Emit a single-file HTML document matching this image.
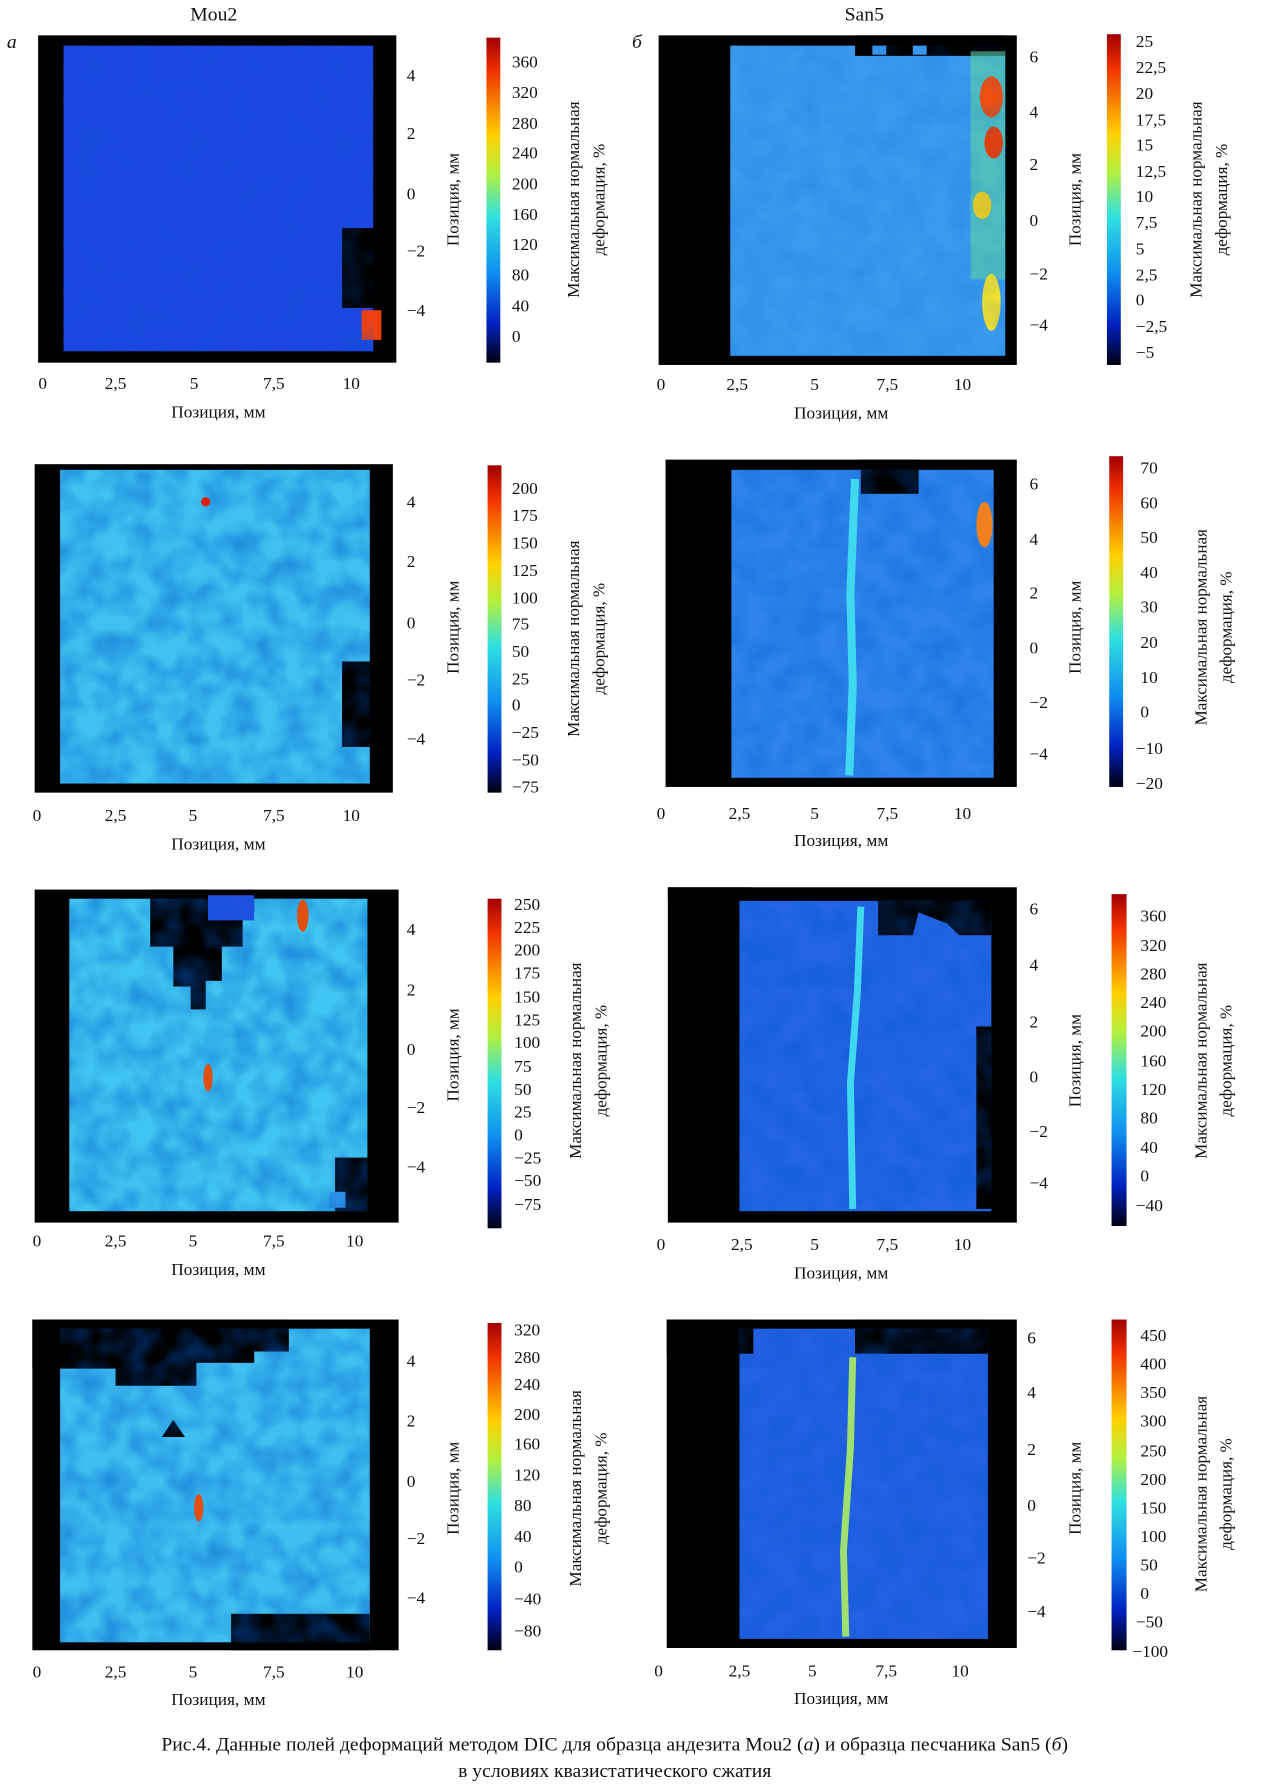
<!DOCTYPE html>
<html><head><meta charset="utf-8"><style>
html,body{margin:0;padding:0;background:#fff;}
svg{display:block}
text{font-family:"Liberation Serif",serif;fill:#111;}
</style></head><body>
<svg width="1271" height="1786" viewBox="0 0 1100 1566" preserveAspectRatio="none" xmlns="http://www.w3.org/2000/svg">
<defs>
<linearGradient id="jet" x1="0" y1="0" x2="0" y2="1">
<stop offset="0" stop-color="#a00000"/><stop offset="0.1" stop-color="#f03000"/><stop offset="0.3" stop-color="#ffd000"/><stop offset="0.42" stop-color="#b0f040"/><stop offset="0.55" stop-color="#30e0e0"/><stop offset="0.72" stop-color="#1090f0"/><stop offset="0.88" stop-color="#0020c0"/><stop offset="1" stop-color="#000010"/>
</linearGradient>
<filter id="tx" x="0" y="0" width="1" height="1"><feTurbulence type="fractalNoise" baseFrequency="0.045" numOctaves="2" seed="3"/><feColorMatrix type="matrix" values="0 0 0 0 0  0 0 0 0 0.1  0 0 0 0 0.6  0 0 0 -1.6 1.1"/></filter>
</defs>
<g font-size="15">
<!-- titles -->
<text x="185" y="18" text-anchor="middle" font-size="17">Mou2</text>
<text x="748" y="18" text-anchor="middle" font-size="17">San5</text>
<text x="6" y="42" font-style="italic" font-size="17">а</text>
<text x="547" y="42" font-style="italic" font-size="17">б</text>

<!-- ROW 1 LEFT -->
<rect x="33" y="31" width="310" height="287" fill="#000"/>
<rect x="55" y="40" width="268" height="268" fill="#1e46e2"/>
<rect x="296" y="200" width="30" height="70" fill="#000"/>
<rect x="313" y="272" width="17" height="26" fill="#f04010"/>
<rect x="55" y="40" width="268" height="268" filter="url(#tx)" opacity="0.3"/>
<g text-anchor="middle"><text x="37" y="341">0</text><text x="100" y="341">2,5</text><text x="168" y="341">5</text><text x="237" y="341">7,5</text><text x="304" y="341">10</text></g>
<text x="189" y="366" text-anchor="middle">Позиция, мм</text>
<g><text x="352" y="71">4</text><text x="352" y="122">2</text><text x="352" y="175">0</text><text x="352" y="225">−2</text><text x="352" y="277">−4</text></g>
<text transform="translate(397,175) rotate(-90)" text-anchor="middle">Позиция, мм</text>
<rect x="421" y="33" width="12" height="285" fill="url(#jet)"/>
<g><text x="443" y="59">360</text><text x="443" y="86">320</text><text x="443" y="113">280</text><text x="443" y="139">240</text><text x="443" y="166">200</text><text x="443" y="193">160</text><text x="443" y="219">120</text><text x="443" y="246">80</text><text x="443" y="273">40</text><text x="443" y="300">0</text></g>
<text transform="translate(501,175) rotate(-90)" text-anchor="middle">Максимальная нормальная</text>
<text transform="translate(523,175) rotate(-90)" text-anchor="middle">деформация, %</text>

<!-- ROW 1 RIGHT -->
<rect x="570" y="31" width="310" height="289" fill="#000"/>
<rect x="632" y="40" width="238" height="272" fill="#3a9aee"/>
<rect x="740" y="31" width="130" height="18" fill="#000"/>
<rect x="755" y="40" width="12" height="8" fill="#3a9aee"/><rect x="790" y="40" width="12" height="8" fill="#3a9aee"/>
<rect x="840" y="45" width="30" height="200" fill="#60d8a0" opacity="0.6"/>
<ellipse cx="858" cy="85" rx="10" ry="18" fill="#f05010"/><ellipse cx="860" cy="125" rx="8" ry="14" fill="#e04010"/><ellipse cx="850" cy="180" rx="8" ry="12" fill="#f0d020"/><ellipse cx="858" cy="265" rx="8" ry="25" fill="#f0e030"/>
<rect x="632" y="40" width="238" height="272" filter="url(#tx)" opacity="0.2"/>
<g text-anchor="middle"><text x="572" y="342">0</text><text x="638" y="342">2,5</text><text x="705" y="342">5</text><text x="768" y="342">7,5</text><text x="833" y="342">10</text></g>
<text x="728" y="367" text-anchor="middle">Позиция, мм</text>
<g><text x="891" y="55">6</text><text x="891" y="103">4</text><text x="891" y="149">2</text><text x="891" y="198">0</text><text x="891" y="245">−2</text><text x="891" y="290">−4</text></g>
<text transform="translate(935,175) rotate(-90)" text-anchor="middle">Позиция, мм</text>
<rect x="958" y="30" width="12" height="290" fill="url(#jet)"/>
<g><text x="983" y="41">25</text><text x="983" y="64">22,5</text><text x="983" y="87">20</text><text x="983" y="110">17,5</text><text x="983" y="132">15</text><text x="983" y="155">12,5</text><text x="983" y="177">10</text><text x="983" y="200">7,5</text><text x="983" y="223">5</text><text x="983" y="246">2,5</text><text x="983" y="268">0</text><text x="983" y="291">−2,5</text><text x="983" y="314">−5</text></g>
<text transform="translate(1040,175) rotate(-90)" text-anchor="middle">Максимальная нормальная</text>
<text transform="translate(1062,175) rotate(-90)" text-anchor="middle">деформация, %</text>

<!-- ROW 2 LEFT -->
<rect x="30" y="407" width="310" height="288" fill="#000"/>
<rect x="52" y="412" width="268" height="275" fill="#40c2f0"/>
<rect x="296" y="580" width="30" height="75" fill="#000"/>
<rect x="52" y="412" width="268" height="275" filter="url(#tx)" opacity="0.55"/>
<circle cx="178" cy="440" r="4" fill="#e02000"/>
<g text-anchor="middle"><text x="32" y="720">0</text><text x="100" y="720">2,5</text><text x="167" y="720">5</text><text x="237" y="720">7,5</text><text x="304" y="720">10</text></g>
<text x="189" y="745" text-anchor="middle">Позиция, мм</text>
<g><text x="352" y="445">4</text><text x="352" y="497">2</text><text x="352" y="551">0</text><text x="352" y="601">−2</text><text x="352" y="653">−4</text></g>
<text transform="translate(397,550) rotate(-90)" text-anchor="middle">Позиция, мм</text>
<rect x="422" y="408" width="12" height="287" fill="url(#jet)"/>
<g><text x="443" y="433">200</text><text x="443" y="457">175</text><text x="443" y="481">150</text><text x="443" y="505">125</text><text x="443" y="529">100</text><text x="443" y="552">75</text><text x="443" y="576">50</text><text x="443" y="600">25</text><text x="443" y="623">0</text><text x="443" y="647">−25</text><text x="443" y="671">−50</text><text x="443" y="695">−75</text></g>
<text transform="translate(501,560) rotate(-90)" text-anchor="middle">Максимальная нормальная</text>
<text transform="translate(523,560) rotate(-90)" text-anchor="middle">деформация, %</text>

<!-- ROW 2 RIGHT -->
<rect x="576" y="403" width="304" height="287" fill="#000"/>
<rect x="633" y="412" width="227" height="270" fill="#2e84ea"/>
<rect x="745" y="403" width="50" height="30" fill="#000"/>
<rect x="633" y="412" width="227" height="270" filter="url(#tx)" opacity="0.4"/>
<path d="M740 420 L736 520 L738 600 L735 680" stroke="#40d8f0" stroke-width="7" fill="none"/>
<ellipse cx="852" cy="460" rx="7" ry="20" fill="#f08020"/>
<g text-anchor="middle"><text x="572" y="718">0</text><text x="640" y="718">2,5</text><text x="705" y="718">5</text><text x="768" y="718">7,5</text><text x="833" y="718">10</text></g>
<text x="728" y="742" text-anchor="middle">Позиция, мм</text>
<g><text x="891" y="429">6</text><text x="891" y="478">4</text><text x="891" y="525">2</text><text x="891" y="573">0</text><text x="891" y="621">−2</text><text x="891" y="666">−4</text></g>
<text transform="translate(935,550) rotate(-90)" text-anchor="middle">Позиция, мм</text>
<rect x="960" y="400" width="12" height="290" fill="url(#jet)"/>
<g><text x="987" y="415">70</text><text x="987" y="446">60</text><text x="987" y="476">50</text><text x="987" y="507">40</text><text x="987" y="537">30</text><text x="987" y="568">20</text><text x="987" y="599">10</text><text x="987" y="629">0</text><text x="983" y="661">−10</text><text x="983" y="692">−20</text></g>
<text transform="translate(1044,550) rotate(-90)" text-anchor="middle">Максимальная нормальная</text>
<text transform="translate(1066,550) rotate(-90)" text-anchor="middle">деформация, %</text>

<!-- ROW 3 LEFT -->
<rect x="30" y="780" width="315" height="292" fill="#000"/>
<rect x="60" y="788" width="258" height="274" fill="#40c4f0"/>
<path d="M130 780 L130 830 L150 830 L150 865 L165 865 L165 885 L178 885 L178 860 L192 860 L192 830 L210 830 L210 800 L220 800 L220 780 Z" fill="#000"/>
<rect x="180" y="785" width="40" height="22" fill="#2050e0"/>
<rect x="290" y="1015" width="35" height="50" fill="#000"/>
<rect x="285" y="1045" width="14" height="14" fill="#3aa0f0"/>
<rect x="60" y="788" width="258" height="274" filter="url(#tx)" opacity="0.55"/>
<ellipse cx="180" cy="945" rx="4" ry="12" fill="#e05010"/>
<ellipse cx="262" cy="803" rx="5" ry="14" fill="#e05010"/>
<g text-anchor="middle"><text x="32" y="1093">0</text><text x="100" y="1093">2,5</text><text x="167" y="1093">5</text><text x="237" y="1093">7,5</text><text x="307" y="1093">10</text></g>
<text x="189" y="1118" text-anchor="middle">Позиция, мм</text>
<g><text x="352" y="820">4</text><text x="352" y="873">2</text><text x="352" y="925">0</text><text x="352" y="976">−2</text><text x="352" y="1028">−4</text></g>
<text transform="translate(397,925) rotate(-90)" text-anchor="middle">Позиция, мм</text>
<rect x="422" y="788" width="12" height="289" fill="url(#jet)"/>
<g><text x="445" y="798">250</text><text x="445" y="818">225</text><text x="445" y="838">200</text><text x="445" y="858">175</text><text x="445" y="879">150</text><text x="445" y="899">125</text><text x="445" y="919">100</text><text x="445" y="940">75</text><text x="445" y="960">50</text><text x="445" y="980">25</text><text x="445" y="1000">0</text><text x="445" y="1020">−25</text><text x="445" y="1040">−50</text><text x="445" y="1061">−75</text></g>
<text transform="translate(503,930) rotate(-90)" text-anchor="middle">Максимальная нормальная</text>
<text transform="translate(525,930) rotate(-90)" text-anchor="middle">деформация, %</text>

<!-- ROW 3 RIGHT -->
<rect x="578" y="778" width="302" height="294" fill="#000"/>
<rect x="640" y="790" width="218" height="272" fill="#2364e2"/>
<rect x="578" y="778" width="72" height="10" fill="#000"/>
<path d="M760 790 L760 820 L790 820 L795 800 L820 810 L830 820 L858 820 L858 790 Z" fill="#000"/>
<rect x="845" y="900" width="15" height="160" fill="#000"/>
<rect x="640" y="790" width="218" height="272" filter="url(#tx)" opacity="0.45"/>
<path d="M745 795 L742 870 L736 950 L738 1060" stroke="#40d8f0" stroke-width="6" fill="none"/>
<g text-anchor="middle"><text x="572" y="1096">0</text><text x="642" y="1096">2,5</text><text x="705" y="1096">5</text><text x="768" y="1096">7,5</text><text x="833" y="1096">10</text></g>
<text x="728" y="1121" text-anchor="middle">Позиция, мм</text>
<g><text x="891" y="802">6</text><text x="891" y="851">4</text><text x="891" y="901">2</text><text x="891" y="949">0</text><text x="891" y="997">−2</text><text x="891" y="1042">−4</text></g>
<text transform="translate(935,930) rotate(-90)" text-anchor="middle">Позиция, мм</text>
<rect x="962" y="784" width="13" height="291" fill="url(#jet)"/>
<g><text x="987" y="808">360</text><text x="987" y="834">320</text><text x="987" y="859">280</text><text x="987" y="884">240</text><text x="987" y="909">200</text><text x="987" y="935">160</text><text x="987" y="960">120</text><text x="987" y="985">80</text><text x="987" y="1011">40</text><text x="987" y="1036">0</text><text x="983" y="1062">−40</text></g>
<text transform="translate(1044,930) rotate(-90)" text-anchor="middle">Максимальная нормальная</text>
<text transform="translate(1066,930) rotate(-90)" text-anchor="middle">деформация, %</text>

<!-- ROW 4 LEFT -->
<rect x="28" y="1157" width="317" height="290" fill="#000"/>
<rect x="52" y="1165" width="268" height="275" fill="#40c0f0"/>
<path d="M28 1157 L28 1200 L100 1200 L100 1215 L170 1215 L170 1195 L220 1195 L220 1185 L250 1185 L250 1157 Z" fill="#000"/>
<path d="M150 1245 L140 1260 L160 1260 Z" fill="#000"/>
<rect x="200" y="1415" width="120" height="32" fill="#000"/>
<rect x="52" y="1165" width="268" height="275" filter="url(#tx)" opacity="0.55"/>
<ellipse cx="172" cy="1322" rx="4" ry="12" fill="#e05010"/>
<g text-anchor="middle"><text x="32" y="1471">0</text><text x="100" y="1471">2,5</text><text x="167" y="1471">5</text><text x="237" y="1471">7,5</text><text x="307" y="1471">10</text></g>
<text x="189" y="1495" text-anchor="middle">Позиция, мм</text>
<g><text x="352" y="1198">4</text><text x="352" y="1251">2</text><text x="352" y="1304">0</text><text x="352" y="1354">−2</text><text x="352" y="1406">−4</text></g>
<text transform="translate(397,1305) rotate(-90)" text-anchor="middle">Позиция, мм</text>
<rect x="422" y="1160" width="12" height="287" fill="url(#jet)"/>
<g><text x="445" y="1171">320</text><text x="445" y="1195">280</text><text x="445" y="1219">240</text><text x="445" y="1245">200</text><text x="445" y="1271">160</text><text x="445" y="1298">120</text><text x="445" y="1325">80</text><text x="445" y="1352">40</text><text x="445" y="1379">0</text><text x="445" y="1407">−40</text><text x="445" y="1435">−80</text></g>
<text transform="translate(503,1305) rotate(-90)" text-anchor="middle">Максимальная нормальная</text>
<text transform="translate(525,1305) rotate(-90)" text-anchor="middle">деформация, %</text>

<!-- ROW 4 RIGHT -->
<rect x="577" y="1157" width="303" height="288" fill="#000"/>
<rect x="640" y="1165" width="215" height="272" fill="#2460e2"/>
<rect x="577" y="1157" width="75" height="30" fill="#000"/>
<rect x="740" y="1157" width="115" height="30" fill="#000"/>
<rect x="740" y="1187" width="20" height="15" fill="#2460e2"/>
<rect x="640" y="1165" width="215" height="272" filter="url(#tx)" opacity="0.45"/>
<path d="M738 1190 L736 1270 L730 1360 L732 1435" stroke="#a0e070" stroke-width="6" fill="none"/>
<g text-anchor="middle"><text x="570" y="1470">0</text><text x="640" y="1470">2,5</text><text x="703" y="1470">5</text><text x="767" y="1470">7,5</text><text x="831" y="1470">10</text></g>
<text x="728" y="1494" text-anchor="middle">Позиция, мм</text>
<g><text x="889" y="1178">6</text><text x="889" y="1226">4</text><text x="889" y="1276">2</text><text x="889" y="1325">0</text><text x="889" y="1371">−2</text><text x="889" y="1418">−4</text></g>
<text transform="translate(935,1305) rotate(-90)" text-anchor="middle">Позиция, мм</text>
<rect x="962" y="1157" width="13" height="290" fill="url(#jet)"/>
<g><text x="987" y="1176">450</text><text x="987" y="1201">400</text><text x="987" y="1226">350</text><text x="987" y="1251">300</text><text x="987" y="1277">250</text><text x="987" y="1302">200</text><text x="987" y="1327">150</text><text x="987" y="1352">100</text><text x="987" y="1377">50</text><text x="987" y="1402">0</text><text x="983" y="1427">−50</text><text x="980" y="1453">−100</text></g>
<text transform="translate(1044,1310) rotate(-90)" text-anchor="middle">Максимальная нормальная</text>
<text transform="translate(1066,1310) rotate(-90)" text-anchor="middle">деформация, %</text>

<!-- caption -->
<text x="532" y="1535" text-anchor="middle" font-size="17">Рис.4. Данные полей деформаций методом DIC для образца андезита Mou2 (<tspan font-style="italic">а</tspan>) и образца песчаника San5 (<tspan font-style="italic">б</tspan>)</text>
<text x="532" y="1558" text-anchor="middle" font-size="17">в условиях квазистатического сжатия</text>
</g>
</svg>
</body></html>
